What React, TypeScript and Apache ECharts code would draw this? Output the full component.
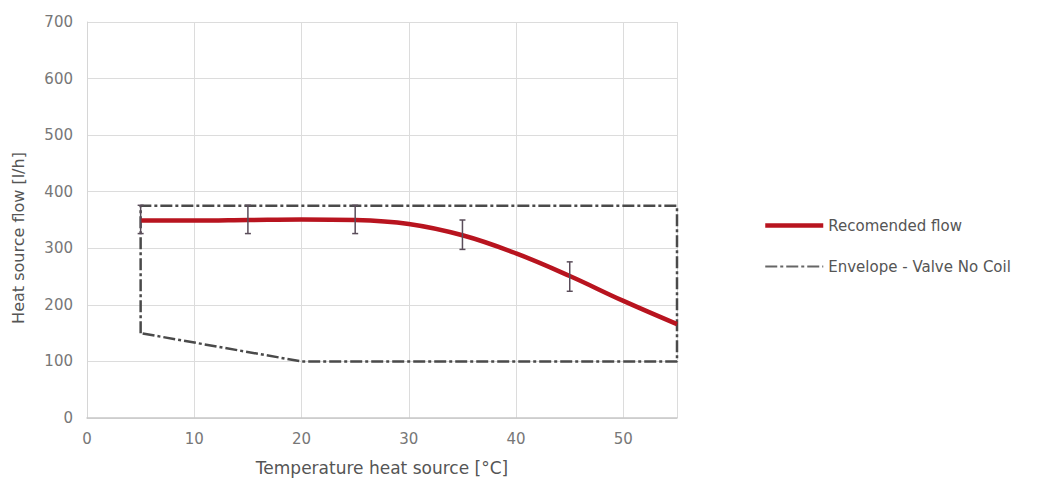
import React, { useEffect, useRef } from "react";
import * as echarts from "echarts";

const flowX = [5, 10, 15, 20, 25, 30, 35, 40, 45, 50, 55];
const flowY = [349, 349, 350, 351, 350, 343, 323, 291, 251, 207, 166];

const errX = [5, 15, 25, 35, 45];
const errLow = [326, 326, 326, 298, 224];
const errHigh = [376, 376, 376, 350, 276];

const envX = [5, 5, 55, 55, 20, 5];
const envY = [150, 375, 375, 100, 100, 150];

const yTicks = [0, 100, 200, 300, 400, 500, 600, 700];
const xTicks = [0, 10, 20, 30, 40, 50];

const FONT = "DejaVu Sans";

export default function App() {
  const ref = useRef<HTMLDivElement>(null);

  useEffect(() => {
    document.body.style.margin = "0";
    const chart = echarts.init(ref.current!, null, { renderer: "svg" });
    const flowData = flowX.map((x, i) => [x, flowY[i]]);
    const envData = envX.map((x, i) => [x, envY[i]]);
    const errData = errX.map((x, i) => [x, errLow[i], errHigh[i]]);

    chart.setOption({
      animation: false,
      backgroundColor: "#ffffff",
      textStyle: { fontFamily: FONT },
      grid: { left: 87, right: 364, top: 22, bottom: 64 },
      legend: {
        orient: "vertical",
        left: 758,
        top: 213,
        itemWidth: 58,
        itemHeight: 14,
        itemGap: 26,
        itemStyle: { opacity: 0 },
        data: [
          { name: "Recomended flow", lineStyle: { width: 4.5, color: "#b8141f" } },
          { name: "Envelope - Valve No Coil", lineStyle: { width: 2, color: "#666", type: [12, 3, 3, 3] } },
        ],
        textStyle: { color: "#555", fontSize: 15, fontFamily: FONT },
      },
      xAxis: {
        type: "value",
        min: xTicks[0],
        max: 55,
        interval: 10,
        name: "Temperature heat source [°C]",
        nameLocation: "middle",
        nameGap: 41,
        nameTextStyle: { color: "#555", fontSize: 17, fontFamily: FONT },
        axisLine: { show: true, lineStyle: { color: "#c8c8c8", width: 1.5 } },
        axisTick: { show: false },
        axisLabel: {
          color: "#777",
          fontSize: 15,
          margin: 13,
          showMaxLabel: false,
          fontFamily: FONT,
        },
        splitLine: { show: true, lineStyle: { color: "#dcdcdc", width: 1 } },
      },
      yAxis: {
        type: "value",
        min: yTicks[0],
        max: yTicks[yTicks.length - 1],
        interval: 100,
        axisLine: { show: true, lineStyle: { color: "#d6d6d6", width: 1 } },
        axisTick: { show: false },
        axisLabel: { color: "#777", fontSize: 15, margin: 14, fontFamily: FONT },
        splitLine: { show: true, lineStyle: { color: "#dcdcdc", width: 1 } },
      },
      graphic: [
        {
          type: "text",
          x: 18,
          y: 238,
          rotation: Math.PI / 2,
          style: {
            text: "Heat source flow [l/h]",
            fill: "#555",
            fontSize: 16,
            fontFamily: FONT,
            textAlign: "center",
            textVerticalAlign: "middle",
          },
        },
      ],
      series: [
        {
          name: "Envelope - Valve No Coil",
          type: "line",
          data: envData,
          showSymbol: false,
          symbol: "none",
          z: 2,
          lineStyle: { color: "#4a4a4a", width: 2.5, type: [12, 3, 3, 3] },
          itemStyle: { color: "#4a4a4a" },
        },
        {
          name: "Recomended flow",
          type: "line",
          data: flowData,
          smooth: 0.4,
          showSymbol: false,
          symbol: "none",
          z: 4,
          lineStyle: { color: "#b8141f", width: 4.5 },
          itemStyle: { color: "#b8141f" },
        },
        {
          name: "err",
          type: "custom",
          data: errData,
          z: 5,
          encode: { x: 0, y: [1, 2] },
          renderItem: (params: any, api: any) => {
            const x = api.value(0);
            const lo = api.coord([x, api.value(1)]);
            const hi = api.coord([x, api.value(2)]);
            const cap = 3;
            const style = { stroke: "#5a4d5a", lineWidth: 1.5 };
            return {
              type: "group",
              children: [
                { type: "line", shape: { x1: lo[0], y1: lo[1], x2: hi[0], y2: hi[1] }, style },
                { type: "line", shape: { x1: lo[0] - cap, y1: lo[1], x2: lo[0] + cap, y2: lo[1] }, style },
                { type: "line", shape: { x1: hi[0] - cap, y1: hi[1], x2: hi[0] + cap, y2: hi[1] }, style },
              ],
            };
          },
        },
      ],
    });
    return () => chart.dispose();
  }, []);

  return (
    <div
      ref={ref}
      style={{ position: "fixed", left: 0, top: 0, width: 1041, height: 482 }}
    />
  );
}
